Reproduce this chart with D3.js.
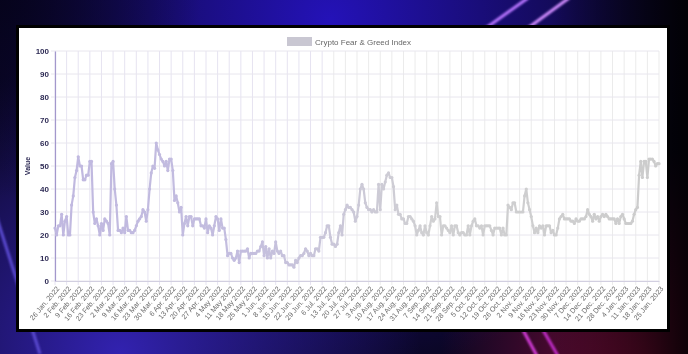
<!DOCTYPE html>
<html>
<head>
<meta charset="utf-8">
<script src="https://cdn.jsdelivr.net/npm/d3@7"></script>
<style>
  html, body { margin: 0; padding: 0; background: #000; }
  svg { display: block; }
</style>
</head>
<body>
<svg id="chart"></svg>
<script>
// 週ごとのラベル (26 Jan. 2022 から 7日おき)
var tickLabels = [
  "26 Jan. 2022", "2 Feb. 2022", "9 Feb. 2022", "16 Feb. 2022", "23 Feb. 2022",
  "2 Mar. 2022", "9 Mar. 2022", "16 Mar. 2022", "23 Mar. 2022", "30 Mar. 2022",
  "6 Apr. 2022", "13 Apr. 2022", "20 Apr. 2022", "27 Apr. 2022", "4 May 2022",
  "11 May 2022", "18 May 2022", "25 May 2022", "1 Jun. 2022", "8 Jun. 2022",
  "15 Jun. 2022", "22 Jun. 2022", "29 Jun. 2022", "6 Jul. 2022", "13 Jul. 2022",
  "20 Jul. 2022", "27 Jul. 2022", "3 Aug. 2022", "10 Aug. 2022", "17 Aug. 2022",
  "24 Aug. 2022", "31 Aug. 2022", "7 Sep. 2022", "14 Sep. 2022", "21 Sep. 2022",
  "28 Sep. 2022", "5 Oct. 2022", "12 Oct. 2022", "19 Oct. 2022", "26 Oct. 2022",
  "2 Nov. 2022", "9 Nov. 2022", "16 Nov. 2022", "23 Nov. 2022", "30 Nov. 2022",
  "7 Dec. 2022", "14 Dec. 2022", "21 Dec. 2022", "28 Dec. 2022", "4 Jan. 2023",
  "11 Jan. 2023", "18 Jan. 2023", "25 Jan. 2023"
];

// 日ごとの値 (26 Jan. 2022 - 25 Jan. 2023)
var fearGreed = [
  23,20,24,24,29,20,26,28,20,20,
  33,37,45,48,54,50,50,44,44,46,
  46,52,52,30,25,27,24,20,25,22,
  27,26,25,20,51,52,40,33,22,22,
  21,23,21,28,22,22,21,21,22,24,
  26,27,28,31,30,26,31,40,47,50,
  49,60,57,55,53,52,50,52,48,53,
  53,48,35,37,34,30,32,20,25,28,
  24,28,28,24,27,27,27,27,24,24,
  23,27,21,24,23,20,24,28,27,22,
  27,23,23,18,11,12,12,10,9,10,
  13,8,13,13,13,13,14,10,12,12,
  12,12,13,13,15,17,11,15,10,14,
  10,13,12,17,13,12,13,11,11,8,
  8,7,7,7,6,9,8,10,11,11,
  12,14,13,11,12,11,11,14,14,13,
  19,19,19,21,24,24,19,16,16,15,
  16,21,24,20,29,31,33,32,32,31,
  30,26,28,33,40,42,40,34,32,31,
  31,30,31,30,30,42,31,42,40,43,
  46,47,45,45,41,31,33,29,29,27,
  27,25,25,28,28,27,26,24,20,22,
  24,21,20,24,21,20,24,28,26,27,
  34,28,28,20,24,24,23,22,21,24,
  20,24,24,21,20,21,21,20,20,24,
  20,24,26,27,24,24,23,24,20,24,
  24,24,24,22,20,23,23,23,23,20,
  23,20,20,33,32,31,34,34,30,30,
  30,30,30,37,40,34,31,28,24,21,
  23,21,24,23,24,20,24,24,24,21,
  22,20,20,23,27,28,29,27,27,27,
  27,26,26,25,27,26,26,27,27,27,
  28,31,29,28,26,29,27,28,26,28,
  29,28,29,28,27,27,27,27,25,27,
  25,28,29,27,25,25,25,25,26,29,
  31,32,46,52,45,52,52,45,53,53,
  53,52,50,51,51
];

var yTicks = [0, 10, 20, 30, 40, 50, 60, 70, 80, 90, 100];
var seriesName = "Crypto Fear & Greed Index";

var w = 688;
var h = 354;
var plot = {left: 55, right: 659, top: 51, bottom: 281};
var font = "Liberation Sans, Arial, sans-serif";

var svg = d3.select("#chart").attr("width", w).attr("height", h);
var defs = svg.append("defs");

// 背景のグラデーション
function radial(id, cx, cy, r, color, op) {
  var g = defs.append("radialGradient").attr("id", id)
    .attr("gradientUnits", "userSpaceOnUse")
    .attr("cx", cx).attr("cy", cy).attr("r", r);
  g.append("stop").attr("offset", 0).attr("stop-color", color).attr("stop-opacity", op);
  g.append("stop").attr("offset", 1).attr("stop-color", color).attr("stop-opacity", 0);
}
radial("bgBlue", 330, 20, 360, "#2412b8", 1);
radial("bgBlueLow", 120, 354, 300, "#3222b0", 1);
radial("bgRed", 650, 360, 210, "#7a0c36", 1);
radial("bgDark", 0, 0, 200, "#05031a", 0.9);

svg.append("rect").attr("width", w).attr("height", h).attr("fill", "#0a0622");
svg.append("rect").attr("width", w).attr("height", h).attr("fill", "url(#bgBlue)");
svg.append("rect").attr("width", w).attr("height", h).attr("fill", "url(#bgBlueLow)");
svg.append("rect").attr("width", w).attr("height", h).attr("fill", "url(#bgRed)");
svg.append("rect").attr("width", w).attr("height", h).attr("fill", "url(#bgDark)");

var rightDark = defs.append("linearGradient").attr("id", "rightDark")
  .attr("x1", 0).attr("x2", 1).attr("y1", 0).attr("y2", 0);
rightDark.append("stop").attr("offset", 0.8).attr("stop-color", "#000").attr("stop-opacity", 0);
rightDark.append("stop").attr("offset", 1).attr("stop-color", "#000").attr("stop-opacity", 0.85);
svg.append("rect").attr("width", w).attr("height", h).attr("fill", "url(#rightDark)");

// 光の線
var blur = defs.append("filter").attr("id", "glow");
blur.append("feGaussianBlur").attr("stdDeviation", 0.8);
var streaks = [
  {x1: 486, y1: 28, x2: 528, y2: -2, c: "#b774ff"},
  {x1: 528, y1: 28, x2: 569, y2: -2, c: "#d08cff"},
  {x1: 523, y1: 330, x2: 537, y2: 356, c: "#d23ad8"},
  {x1: 543, y1: 330, x2: 558, y2: 356, c: "#c02cc8"},
  {x1: -4, y1: 215, x2: 40, y2: 354, c: "#5a4ad0"}
];
svg.append("g").selectAll("line").data(streaks).enter().append("line")
  .attr("x1", d => d.x1).attr("y1", d => d.y1)
  .attr("x2", d => d.x2).attr("y2", d => d.y2)
  .attr("stroke", d => d.c).attr("stroke-width", 3)
  .attr("filter", "url(#glow)");

// 文字をグレースケールで描くためのフィルタ
var flat = defs.append("filter").attr("id", "flat");
flat.append("feOffset").attr("dx", 0).attr("dy", 0);

// 黒い枠と白いパネル
svg.append("rect").attr("x", 16).attr("y", 25).attr("width", 654).attr("height", 307).attr("fill", "#000");
svg.append("rect").attr("x", 19).attr("y", 28).attr("width", 648).attr("height", 301).attr("fill", "#fff");

// 線の色 (左は薄紫, 右は灰色)
var lineGrad = defs.append("linearGradient").attr("id", "lineGrad")
  .attr("gradientUnits", "userSpaceOnUse")
  .attr("x1", plot.left).attr("x2", plot.right).attr("y1", 0).attr("y2", 0);
[[0, "#c0b8e0"], [0.3, "#c3bddf"], [0.48, "#cbc8d8"], [0.62, "#d0d0d2"], [1, "#cccccc"]]
  .forEach(s => lineGrad.append("stop").attr("offset", s[0]).attr("stop-color", s[1]));

var x = d3.scaleLinear().domain([0, fearGreed.length - 1]).range([plot.left, plot.right]);
var y = d3.scaleLinear().domain([0, 100]).range([plot.bottom, plot.top]);

var weekIdx = tickLabels.map((d, i) => i * 7);

// グリッド
var grid = svg.append("g");
grid.selectAll(".vg").data(weekIdx).enter().append("line")
  .attr("x1", d => x(d)).attr("x2", d => x(d))
  .attr("y1", plot.top).attr("y2", plot.bottom + 4)
  .attr("stroke", d => x(d) < 330 ? "#e6e3f1" : "#ebebeb").attr("stroke-width", 1);
grid.selectAll(".hg").data(yTicks).enter().append("line")
  .attr("x1", plot.left - 4).attr("x2", plot.right)
  .attr("y1", d => y(d)).attr("y2", d => y(d))
  .attr("stroke", "#e8e6ee").attr("stroke-width", 1);

// Y軸
var yAxis = svg.append("g")
  .attr("transform", "translate(" + plot.left + ",0)")
  .attr("filter", "url(#flat)")
  .call(d3.axisLeft(y).tickValues(yTicks).tickSize(0).tickPadding(6));
yAxis.select(".domain").attr("stroke", "#a398cc").attr("stroke-width", 1.2);
yAxis.selectAll("text")
  .attr("fill", "#2e2b55").style("font-family", font)
  .style("font-size", "8px").style("font-weight", "bold");

// X軸
var xAxis = svg.append("g")
  .attr("transform", "translate(0," + plot.bottom + ")")
  .attr("filter", "url(#flat)")
  .call(d3.axisBottom(x).tickValues(weekIdx).tickSize(0)
    .tickFormat((d, i) => tickLabels[i]));
xAxis.select(".domain").attr("stroke", "#d2cfe0").attr("stroke-width", 1.2);
xAxis.selectAll("text")
  .attr("fill", "#6a6a6a").style("font-family", font)
  .style("font-size", "7.2px")
  .attr("text-anchor", "end")
  .attr("dy", 0)
  .attr("transform", "translate(2,6) rotate(-50)");

svg.append("text")
  .attr("transform", "translate(30," + ((plot.top + plot.bottom) / 2) + ") rotate(-90)")
  .attr("text-anchor", "middle")
  .attr("filter", "url(#flat)")
  .style("font-family", font)
  .style("font-size", "7px").style("font-weight", "bold")
  .attr("fill", "#2e2b55")
  .text("Value");

// 凡例
svg.append("rect").attr("x", 287).attr("y", 37).attr("width", 25).attr("height", 9)
  .attr("fill", "#c9c7d2");
svg.append("text").attr("x", 315).attr("y", 44.5)
  .attr("filter", "url(#flat)")
  .style("font-family", font)
  .style("font-size", "8px").attr("fill", "#666")
  .text(seriesName);

// 折れ線
var line = d3.line().x((d, i) => x(i)).y(d => y(d));
svg.append("path").datum(fearGreed)
  .attr("d", line)
  .attr("fill", "none")
  .attr("stroke", "url(#lineGrad)")
  .attr("stroke-width", 2.2)
  .attr("stroke-linejoin", "round");

svg.append("g").selectAll("circle").data(fearGreed).enter().append("circle")
  .attr("cx", (d, i) => x(i)).attr("cy", d => y(d))
  .attr("r", 1.6)
  .attr("fill", "url(#lineGrad)");
</script>
</body>
</html>
